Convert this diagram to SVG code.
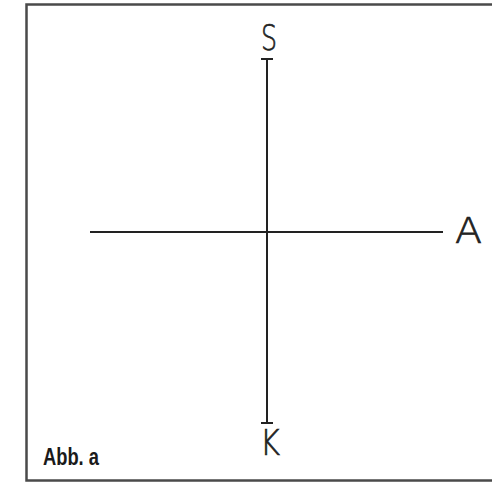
<svg xmlns="http://www.w3.org/2000/svg" width="492" height="483" viewBox="0 0 492 483">
<style>
.frame{fill:none;stroke:#4a4a4a;stroke-width:2.5}
.ax{stroke:#222;stroke-width:2;fill:none}
.lbl{font-family:"DejaVu Sans","Liberation Sans",sans-serif;font-weight:300;font-size:36px;fill:#222;stroke:#222;stroke-width:0.7}
.cap{font-family:"Liberation Sans",Arial,sans-serif;font-weight:bold;font-size:24px;fill:#1a1a1a}
</style>
<rect width="492" height="483" fill="#fff"/>
<rect class="frame" x="26.5" y="4.5" width="480" height="476"/>
<g id="connectors">
<line class="ax" x1="267" y1="59" x2="267" y2="423"/>
<line class="ax" x1="261" y1="59" x2="273" y2="59"/>
<line class="ax" x1="261" y1="423" x2="273" y2="423"/>
<line class="ax" x1="90" y1="232" x2="443" y2="232"/>
</g>
<g id="S"><text class="lbl" x="269" y="50" text-anchor="middle" textLength="16" lengthAdjust="spacingAndGlyphs">S</text></g>
<g id="K"><text class="lbl" x="270" y="455" text-anchor="middle" textLength="20" lengthAdjust="spacingAndGlyphs">K</text></g>
<g id="A"><text class="lbl" x="468.5" y="243" text-anchor="middle" textLength="27" lengthAdjust="spacingAndGlyphs">A</text></g>
<g id="caption"><text class="cap" x="43" y="465" textLength="56" lengthAdjust="spacingAndGlyphs">Abb. a</text></g>
</svg>
